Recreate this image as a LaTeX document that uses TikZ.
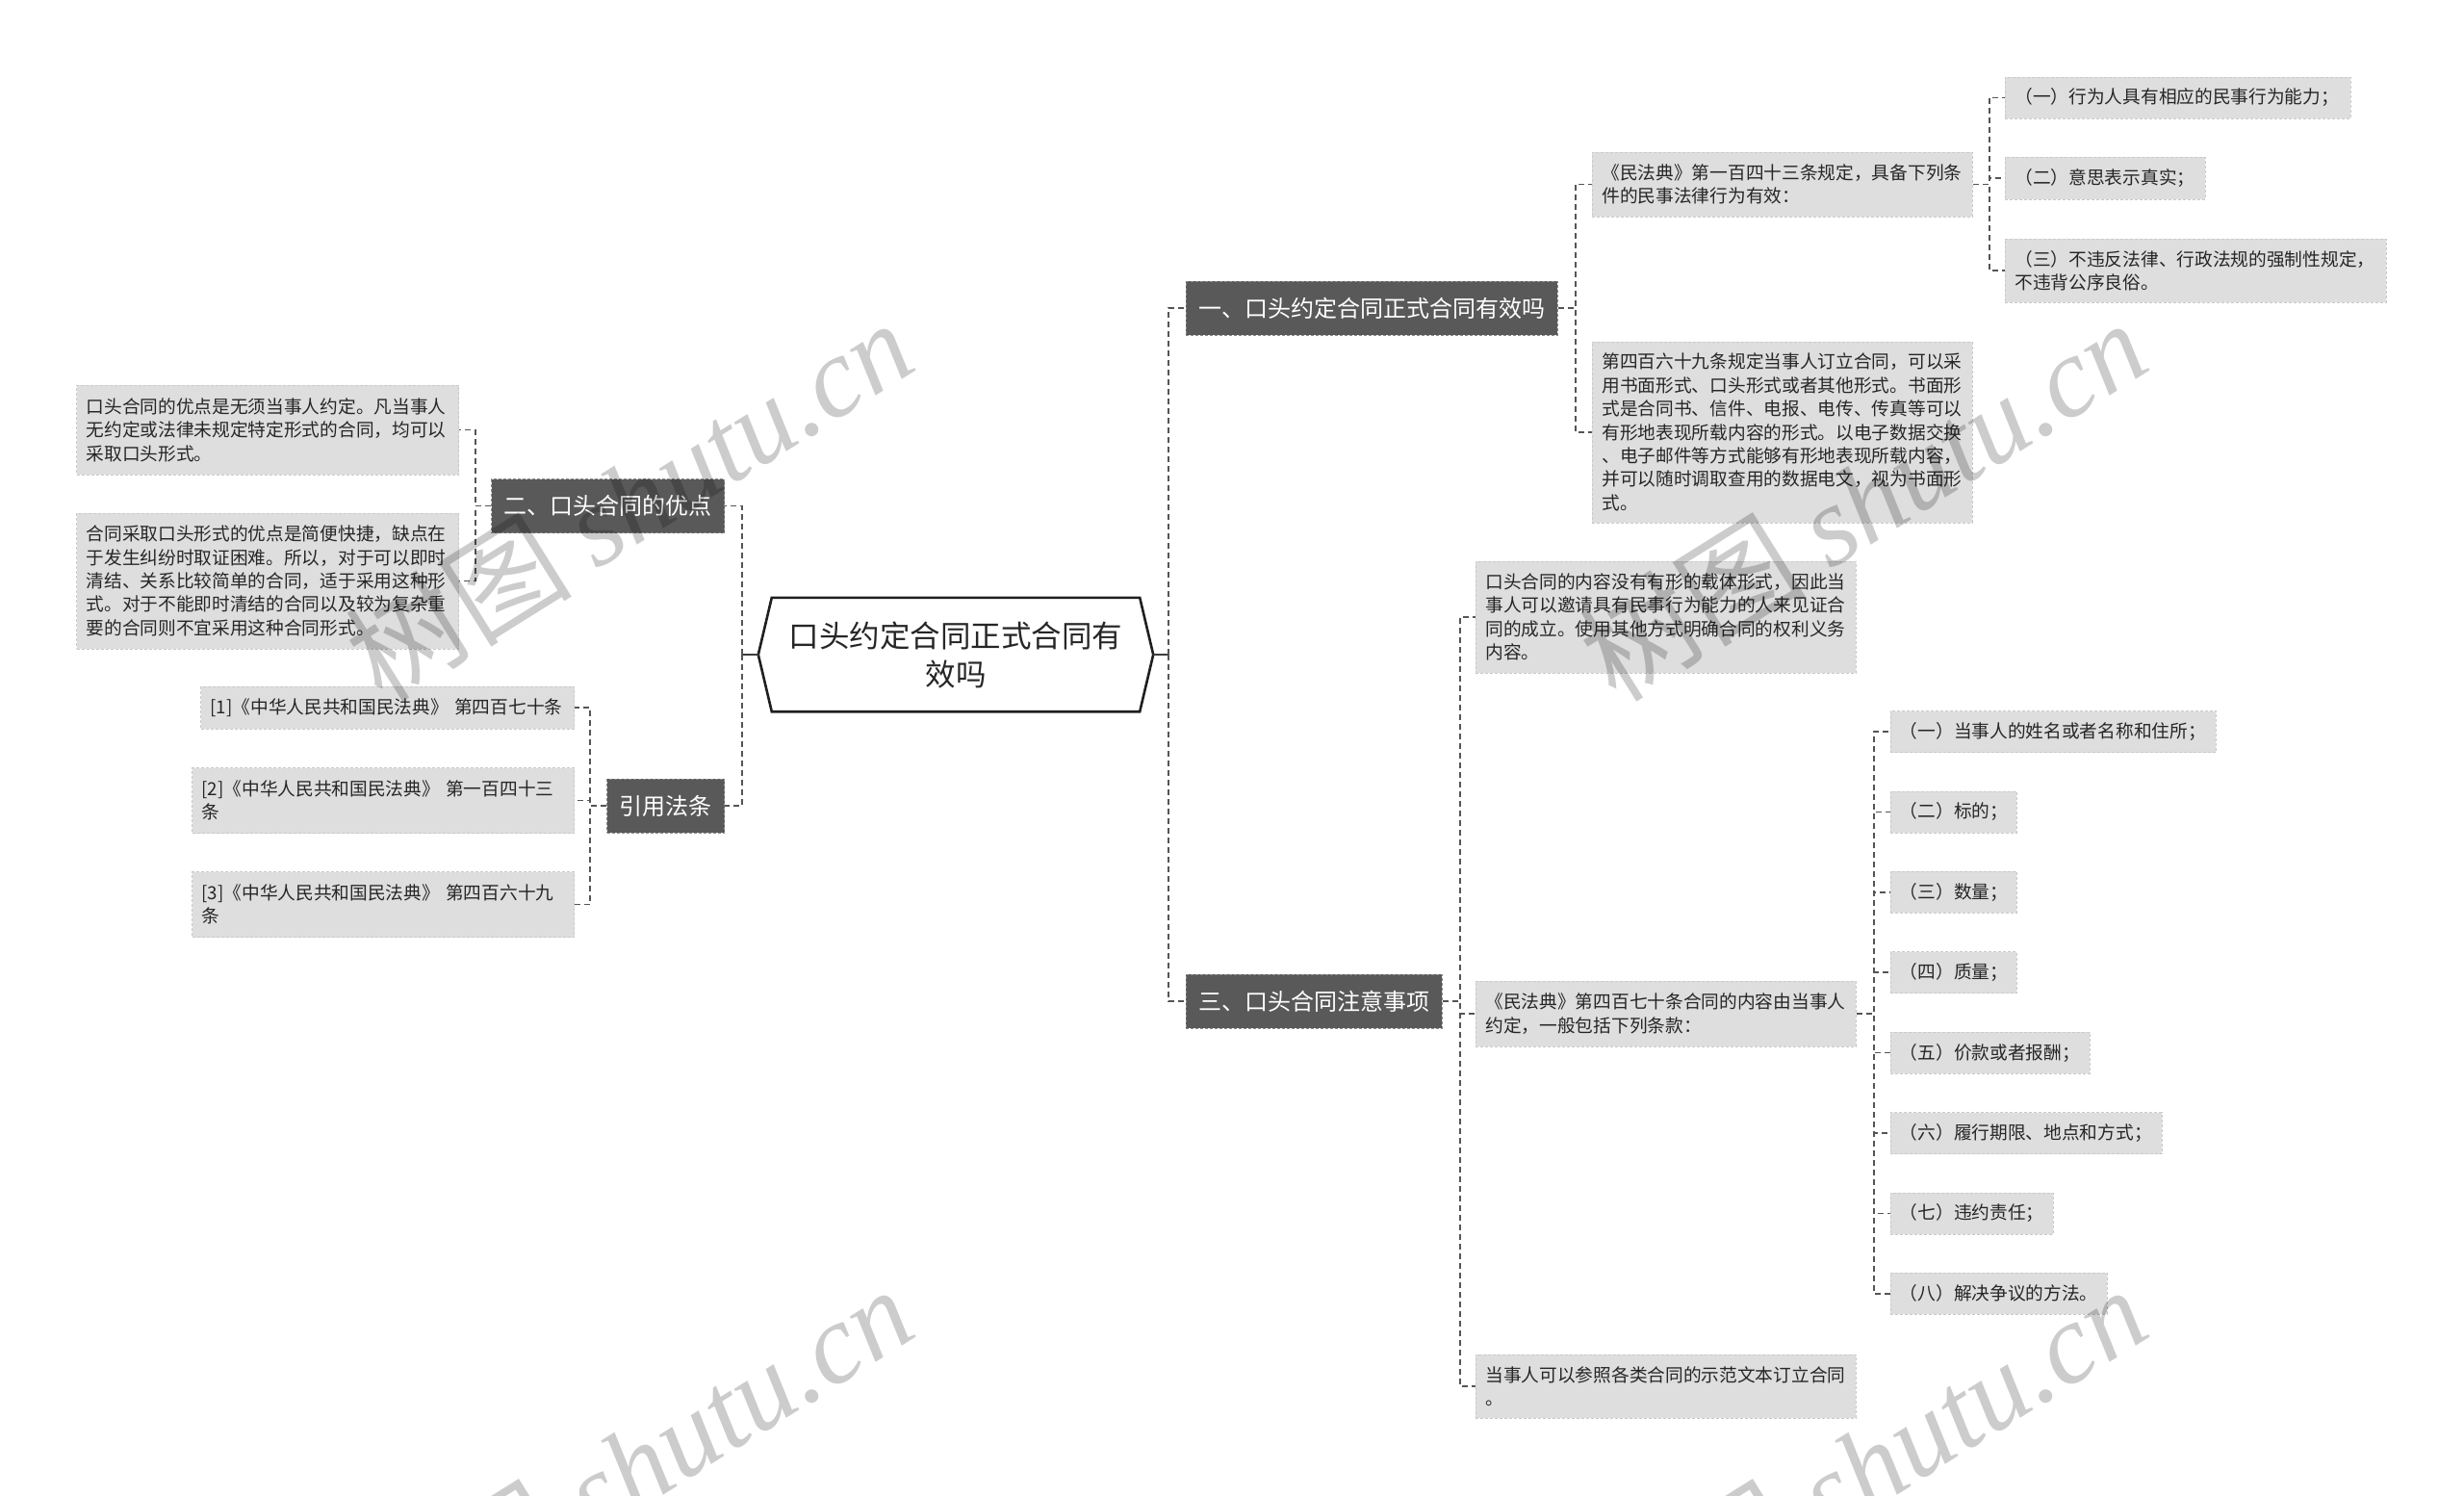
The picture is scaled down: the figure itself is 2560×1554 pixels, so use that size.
\documentclass[tikz,border=0pt]{standalone}
\usepackage{fontspec}
\setmainfont{Noto Sans CJK SC}
\newfontfamily\wmserif{Liberation Serif}
\usetikzlibrary{calc}
\definecolor{branchfill}{HTML}{595959}
\definecolor{branchedge}{HTML}{8A8A8A}
\definecolor{leaffill}{HTML}{DEDEDE}
\definecolor{leafedge}{HTML}{CACACA}
\definecolor{linecol}{HTML}{555555}
\definecolor{textcol}{HTML}{262626}
\tikzset{
  leaf/.style={fill=leaffill, draw=leafedge, dash pattern=on 3pt off 2pt, line width=0.8pt,
    inner xsep=10pt, inner ysep=0pt, align=left, text=textcol,
    font=\fontsize{18.7}{24.4}\selectfont},
  branch/.style={fill=branchfill, draw=branchedge, dash pattern=on 3pt off 2pt, line width=0.8pt,
    inner xsep=13pt, inner ysep=0pt, minimum height=56pt, text=white,
    font=\fontsize{24}{30}\selectfont},
  central/.style={inner sep=0pt, minimum width=410pt, minimum height=118pt, align=center,
    text=textcol, font=\fontsize{31.5}{40}\selectfont},
  hexline/.style={draw=black!88, line width=2.6pt, line join=miter},
  conn/.style={draw=linecol, line width=1.6pt, dash pattern=on 6pt off 4pt},
  stub/.style={draw=linecol!70!black, line width=2.4pt},
  wm/.style={text=black, text opacity=0.2, font=\fontsize{118}{120}\selectfont, inner sep=0pt}
}
\begin{document}
\begin{tikzpicture}[x=1pt, y=-1pt]
\useasboundingbox[fill=white] (0,0) rectangle (2560,1554);

% central
\node[central] (c) at (993,680) {口头约定合同正式合同有\\效吗};
\draw[hexline] ($(c.north west)+(14,0)$) -- ($(c.north east)+(-14,0)$) -- (c.east)
  -- ($(c.south east)+(-14,0)$) -- ($(c.south west)+(14,0)$) -- (c.west) -- cycle;

% branches
\node[branch, anchor=west] (b1) at (1232,320) {一、口头约定合同正式合同有效吗};
\node[branch, anchor=west] (b3) at (1232,1040) {三、口头合同注意事项};
\node[branch, anchor=east] (b2) at (753,525.5) {二、口头合同的优点};
\node[branch, anchor=east] (b4) at (753,837) {引用法条};

% left leaves
\node[leaf, anchor=east, text width=377pt, minimum height=93pt] (la) at (477,446.5)
  {口头合同的优点是无须当事人约定。凡当事人\\无约定或法律未规定特定形式的合同，均可以\\采取口头形式。};
\node[leaf, anchor=east, text width=377pt, minimum height=141pt] (lb) at (477,603.5)
  {合同采取口头形式的优点是简便快捷，缺点在\\于发生纠纷时取证困难。所以，对于可以即时\\清结、关系比较简单的合同，适于采用这种形\\式。对于不能即时清结的合同以及较为复杂重\\要的合同则不宜采用这种合同形式。};
\node[leaf, anchor=east, text width=368pt, minimum height=44pt] (r1) at (597,735)
  {[1]《中华人民共和国民法典》 第四百七十条};
\node[leaf, anchor=east, text width=377pt, minimum height=68pt] (r2) at (597,831.5)
  {[2]《中华人民共和国民法典》 第一百四十三\\条};
\node[leaf, anchor=east, text width=377pt, minimum height=68pt] (r3) at (597,939.5)
  {[3]《中华人民共和国民法典》 第四百六十九\\条};

% right leaves, section one
\node[leaf, anchor=west, text width=375pt, minimum height=67pt] (p1) at (1654,191.5)
  {《民法典》第一百四十三条规定，具备下列条\\件的民事法律行为有效：};
\node[leaf, anchor=west, text width=375pt, minimum height=188pt] (p2) at (1654,449)
  {第四百六十九条规定当事人订立合同，可以采\\用书面形式、口头形式或者其他形式。书面形\\式是合同书、信件、电报、电传、传真等可以\\有形地表现所载内容的形式。以电子数据交换\\、电子邮件等方式能够有形地表现所载内容，\\并可以随时调取查用的数据电文，视为书面形\\式。};
\node[leaf, anchor=west, text width=339pt, minimum height=43pt] (q1) at (2083,101.5)
  {（一）行为人具有相应的民事行为能力；};
\node[leaf, anchor=west, text width=188pt, minimum height=44pt] (q2) at (2083,185)
  {（二）意思表示真实；};
\node[leaf, anchor=west, text width=376pt, minimum height=66pt] (q3) at (2083,281)
  {（三）不违反法律、行政法规的强制性规定，\\不违背公序良俗。};

% right leaves, section three
\node[leaf, anchor=west, text width=375pt, minimum height=116pt] (s1) at (1533,641)
  {口头合同的内容没有有形的载体形式，因此当\\事人可以邀请具有民事行为能力的人来见证合\\同的成立。使用其他方式明确合同的权利义务\\内容。};
\node[leaf, anchor=west, text width=375pt, minimum height=68pt] (s2) at (1533,1053)
  {《民法典》第四百七十条合同的内容由当事人\\约定，一般包括下列条款：};
\node[leaf, anchor=west, text width=375pt, minimum height=66pt] (s3) at (1533,1440)
  {当事人可以参照各类合同的示范文本订立合同\\。};

\node[leaf, anchor=west, text width=318.5pt, minimum height=43pt] (t1) at (1963.5,760) {（一）当事人的姓名或者名称和住所；};
\node[leaf, anchor=west, text width=111pt, minimum height=43pt] (t2) at (1963.5,843.4) {（二）标的；};
\node[leaf, anchor=west, text width=111pt, minimum height=43pt] (t3) at (1963.5,926.8) {（三）数量；};
\node[leaf, anchor=west, text width=111pt, minimum height=43pt] (t4) at (1963.5,1010.2) {（四）质量；};
\node[leaf, anchor=west, text width=187pt, minimum height=43pt] (t5) at (1963.5,1093.6) {（五）价款或者报酬；};
\node[leaf, anchor=west, text width=262pt, minimum height=43pt] (t6) at (1963.5,1177) {（六）履行期限、地点和方式；};
\node[leaf, anchor=west, text width=149pt, minimum height=43pt] (t7) at (1963.5,1260.4) {（七）违约责任；};
\node[leaf, anchor=west, text width=205pt, minimum height=43pt] (t8) at (1963.5,1343.8) {（八）解决争议的方法。};

% connectors: central
\draw[stub] (c.west) -- ++(-17,0) coordinate (cl);
\draw[stub] (c.east) -- ++(16,0) coordinate (cr);
\draw[conn] (cl) |- (b2.east);
\draw[conn] (cl) |- (b4.east);
\draw[conn] (cr) |- (b1.west);
\draw[conn] (cr) |- (b3.west);

% branch two
\draw[conn] (b2.west) -- ++(-16,0) |- (la.east);
\draw[conn] (b2.west) -- ++(-16,0) |- (lb.east);
% references
\draw[conn] (b4.west) -- ++(-17,0) |- (r1.east);
\draw[conn] (b4.west) -- ++(-17,0) |- (r2.east);
\draw[conn] (b4.west) -- ++(-17,0) |- (r3.east);
% branch one
\draw[conn] (b1.east) -- ++(18,0) |- (p1.west);
\draw[conn] (b1.east) -- ++(18,0) |- (p2.west);
\draw[conn] (p1.east) -- ++(17,0) |- (q1.west);
\draw[conn] (p1.east) -- ++(17,0) |- (q2.west);
\draw[conn] (p1.east) -- ++(17,0) |- (q3.west);
% branch three
\draw[conn] (b3.east) -- ++(18,0) |- (s1.west);
\draw[conn] (b3.east) -- ++(18,0) |- (s2.west);
\draw[conn] (b3.east) -- ++(18,0) |- (s3.west);
\foreach \i in {1,...,8} {
  \draw[conn] (s2.east) -- ++(18,0) |- (t\i.west);
}

% watermarks
\node[wm, rotate=32] (wm1) at (653,519) {树图 {\wmserif\itshape shutu.cn}};
\node[wm, rotate=32] (wm2) at (1935,519) {树图 {\wmserif\itshape shutu.cn}};
\node[wm, rotate=32] (wm3) at (653,1523) {树图 {\wmserif\itshape shutu.cn}};
\node[wm, rotate=32] (wm4) at (1935,1523) {树图 {\wmserif\itshape shutu.cn}};
\end{tikzpicture}
\end{document}
